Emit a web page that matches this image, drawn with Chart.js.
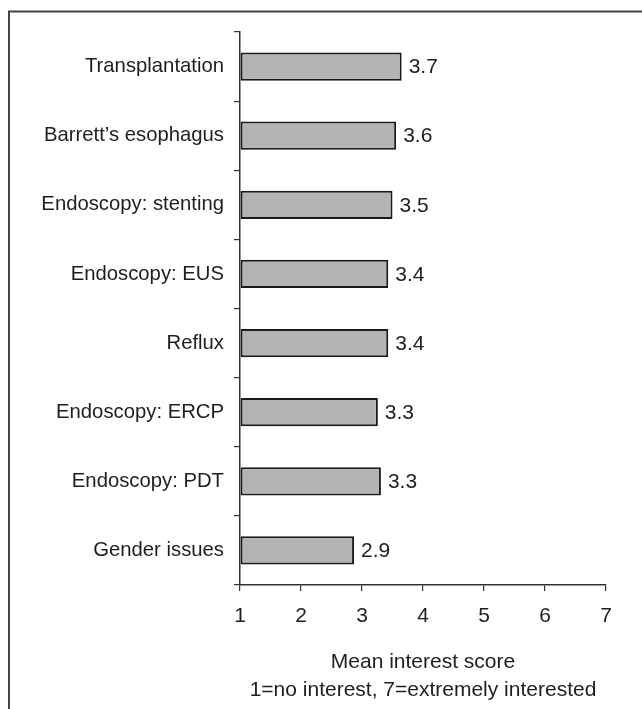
<!DOCTYPE html>
<html>
<head>
<meta charset="utf-8">
<script src="https://cdn.jsdelivr.net/npm/chart.js@4.4.0/dist/chart.umd.min.js"></script>
<style>
  html, body { margin: 0; padding: 0; background: #fff; }
  #wrap { width: 642px; height: 709px; position: relative; }
</style>
</head>
<body>
<div id="wrap"><canvas id="chart"></canvas></div>
<script>
const topics = [
  "Transplantation",
  "Barrett\u2019s esophagus",
  "Endoscopy: stenting",
  "Endoscopy: EUS",
  "Reflux",
  "Endoscopy: ERCP",
  "Endoscopy: PDT",
  "Gender issues"
];
const meanScores = [3.65, 3.56, 3.50, 3.43, 3.43, 3.26, 3.31, 2.87];
const scoreLabels = ["3.7", "3.6", "3.5", "3.4", "3.4", "3.3", "3.3", "2.9"];
const scaleTicks = [1, 2, 3, 4, 5, 6, 7];
const axisTitle = ["Mean interest score", "1=no interest, 7=extremely interested"];

const ink = "#1e1e1e";
const fontFamily = "'Liberation Sans', Arial, sans-serif";

// frame round the figure (only top and left edges are visible)
const framePlugin = {
  id: "frame",
  beforeDraw(chart) {
    const c = chart.ctx;
    c.save();
    c.strokeStyle = "#444";
    c.lineWidth = 2;
    c.beginPath();
    c.moveTo(chart.width, 11.5);
    c.lineTo(9, 11.5);
    c.lineTo(9, chart.height);
    c.stroke();
    c.restore();
  }
};

// value text to the right of each bar
const valuePlugin = {
  id: "values",
  afterDatasetsDraw(chart) {
    const c = chart.ctx;
    const meta = chart.getDatasetMeta(0);
    c.save();
    c.font = "21px " + fontFamily;
    c.fillStyle = ink;
    c.textAlign = "left";
    c.textBaseline = "middle";
    meta.data.forEach((bar, i) => {
      c.fillText(scoreLabels[i], bar.x + 7, bar.y + 1);
    });
    c.restore();
  }
};

new Chart(document.getElementById("chart"), {
  type: "bar",
  data: {
    labels: topics,
    datasets: [{
      data: meanScores,
      base: 1,
      backgroundColor: "#b3b4b6",
      borderColor: "#1a1a1a",
      borderWidth: 2,
      borderSkipped: false,
      barPercentage: 0.41,
      categoryPercentage: 1
    }]
  },
  options: {
    indexAxis: "y",
    responsive: true,
    maintainAspectRatio: false,
    animation: false,
    layout: { padding: { left: 0, right: 36, top: 32, bottom: 5 } },
    plugins: {
      legend: { display: false },
      tooltip: { enabled: false }
    },
    scales: {
      x: {
        type: "linear",
        min: 1,
        max: 7,
        afterBuildTicks(scale) {
          scale.ticks = scaleTicks.map(v => ({ value: v }));
        },
        afterFit(scale) { scale.height = 119; },
        grid: {
          drawOnChartArea: false,
          drawTicks: true,
          tickLength: 6,
          color: "#333",
          lineWidth: 1.2
        },
        border: { display: true, color: "#333", width: 1.5 },
        ticks: {
          color: ink,
          font: { family: fontFamily, size: 21 },
          padding: 13,
          maxRotation: 0
        },
        title: {
          display: true,
          text: axisTitle,
          color: ink,
          font: { family: fontFamily, size: 21, lineHeight: 1.33 },
          padding: { top: 10, bottom: 0 }
        }
      },
      y: {
        afterFit(scale) { scale.width = 240; },
        grid: {
          offset: true,
          drawOnChartArea: false,
          drawTicks: true,
          tickLength: 6,
          color: "#333",
          lineWidth: 1.2
        },
        border: { display: true, color: "#333", width: 1.5 },
        ticks: {
          color: ink,
          font: { family: fontFamily, size: 20.3 },
          padding: 10
        }
      }
    }
  },
  plugins: [framePlugin, valuePlugin]
});
</script>
</body>
</html>
